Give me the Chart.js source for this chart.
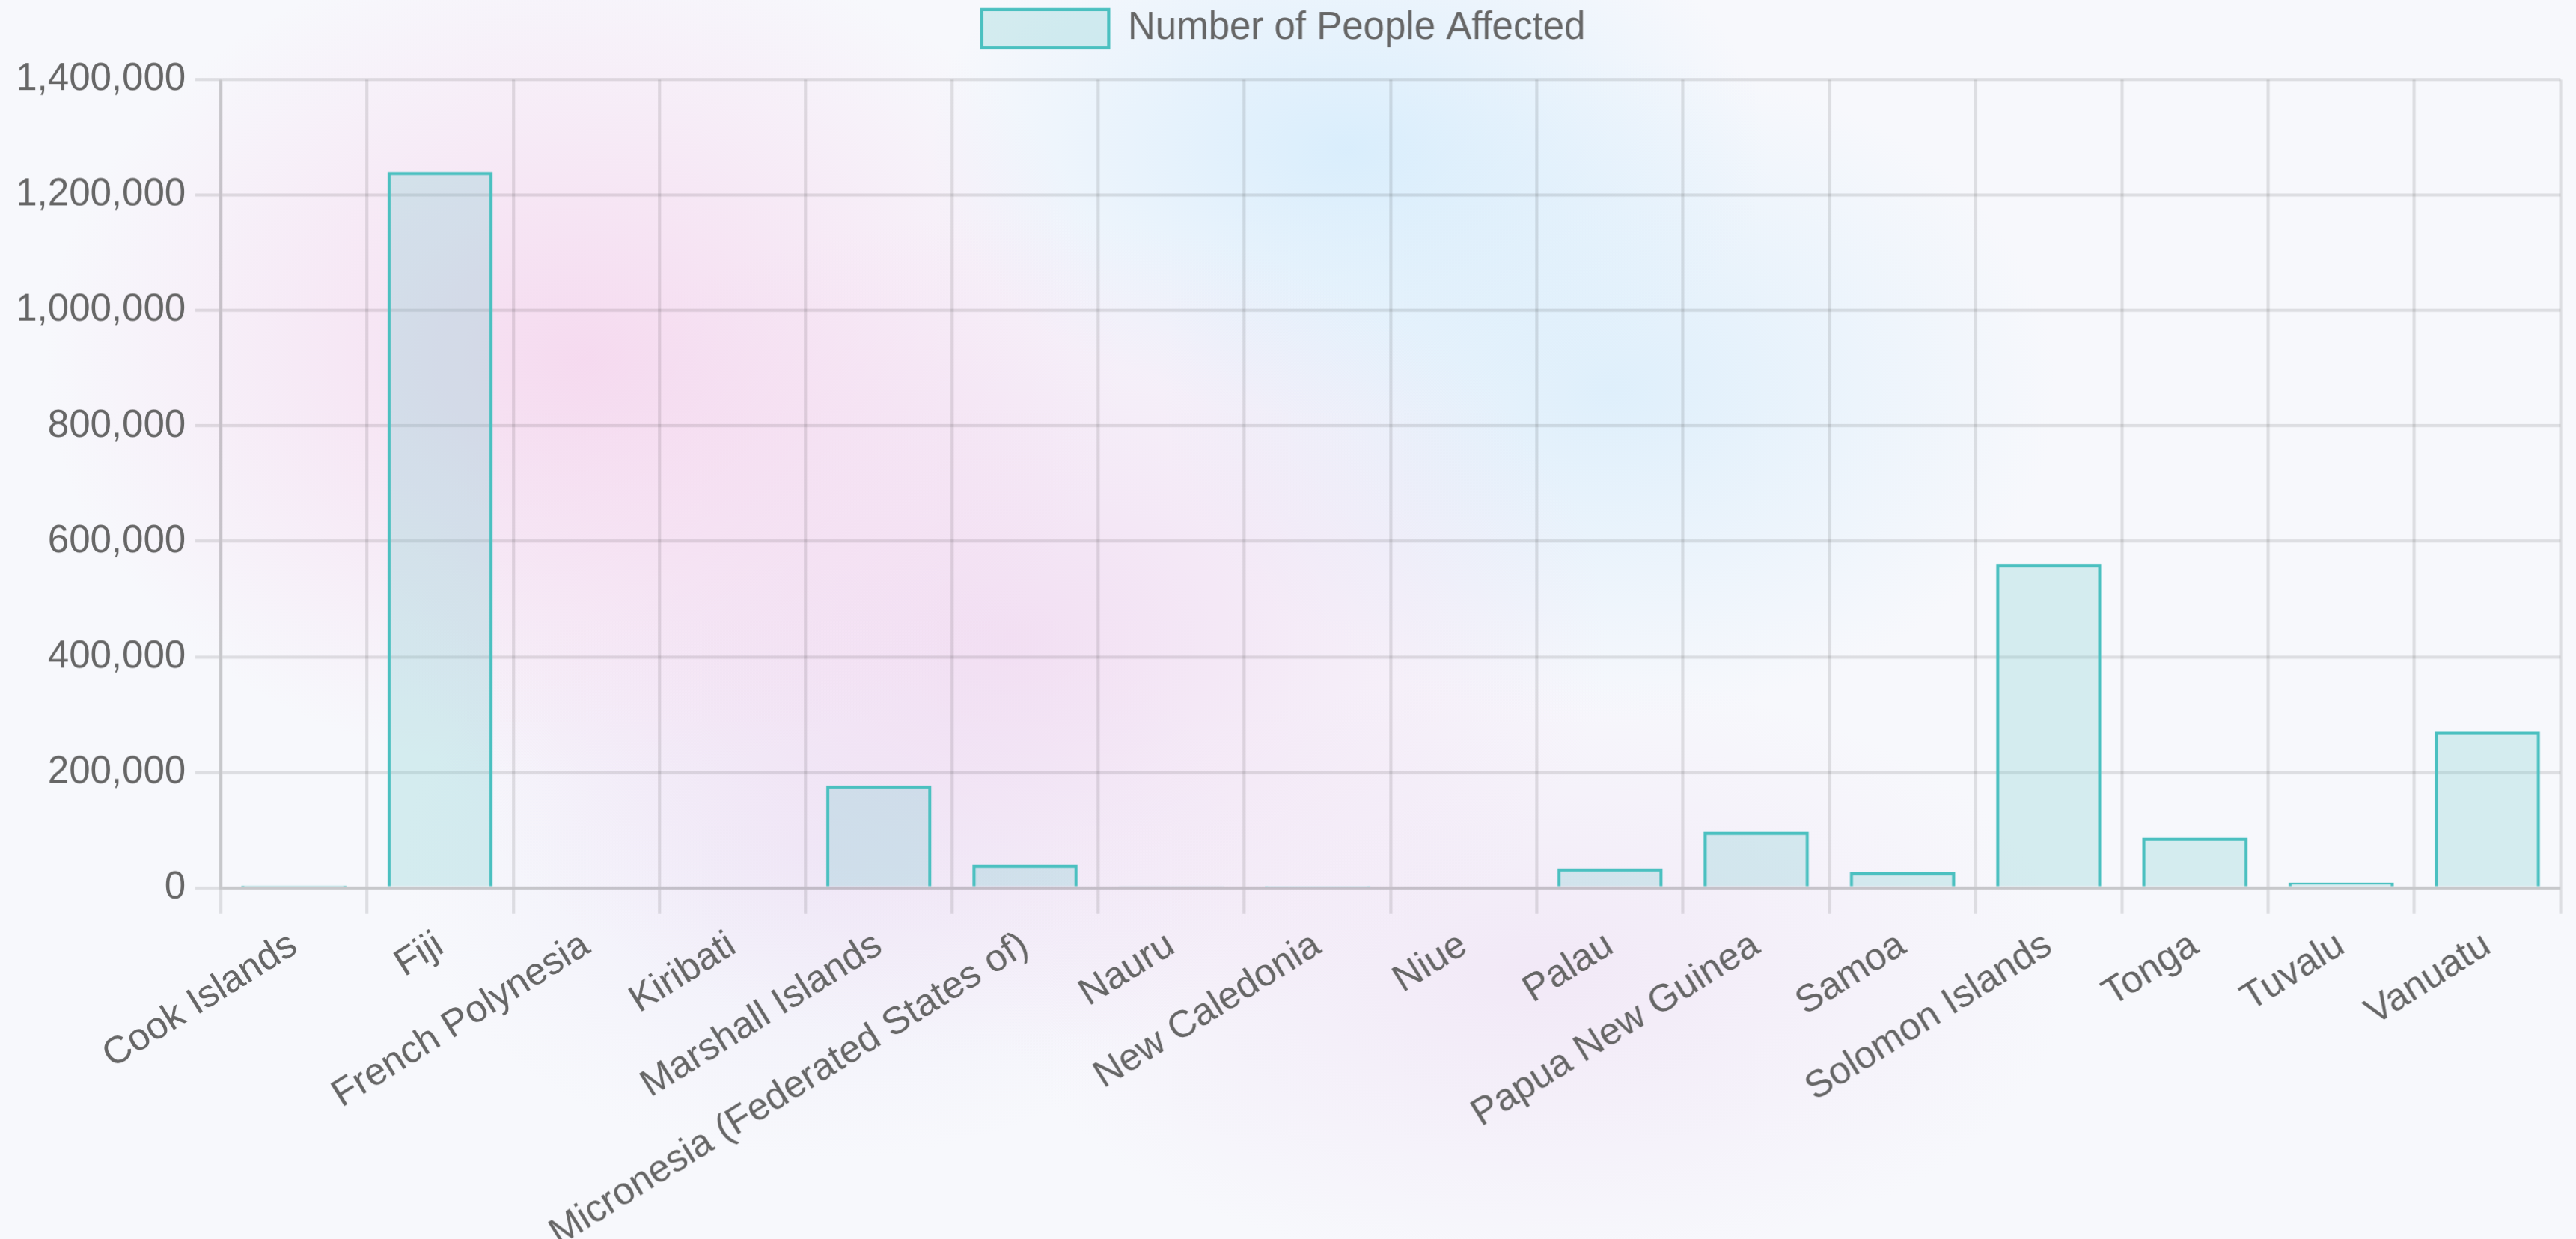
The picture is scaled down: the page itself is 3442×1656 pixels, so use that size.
<!DOCTYPE html>
<html>
<head>
<meta charset="utf-8">
<title>Number of People Affected</title>
<script src="https://cdn.jsdelivr.net/npm/chart.js@4"></script>
<style>
	html, body {
		margin: 0;
		padding: 0;
		width: 3442px;
		height: 1656px;
		overflow: hidden;
	}
	body {
		background-color: #f7f8fc;
		background-image:
			radial-gradient(ellipse 900px 700px at 780px 480px, rgba(245, 208, 235, 0.75), rgba(245, 208, 235, 0) 80%),
			radial-gradient(ellipse 1000px 700px at 1350px 850px, rgba(240, 210, 238, 0.65), rgba(240, 210, 238, 0) 80%),
			radial-gradient(ellipse 700px 450px at 1800px 200px, rgba(210, 235, 252, 0.8), rgba(210, 235, 252, 0) 80%),
			radial-gradient(ellipse 750px 550px at 2150px 520px, rgba(214, 236, 251, 0.75), rgba(214, 236, 251, 0) 80%),
			radial-gradient(ellipse 900px 500px at 2050px 1300px, rgba(238, 222, 243, 0.6), rgba(238, 222, 243, 0) 80%),
			radial-gradient(ellipse 700px 500px at 1100px 1150px, rgba(232, 226, 246, 0.5), rgba(232, 226, 246, 0) 80%);
	}
	#wrap {
		position: absolute;
		left: 0;
		top: 0;
		width: 809.88px;
		height: 389.65px;
		transform: scale(4.25);
		transform-origin: 0 0;
	}
</style>
</head>
<body>
<div id="wrap"><canvas id="chart"></canvas></div>
<script>
const countries = [
	'Cook Islands', 'Fiji', 'French Polynesia', 'Kiribati', 'Marshall Islands',
	'Micronesia (Federated States of)', 'Nauru', 'New Caledonia', 'Niue', 'Palau',
	'Papua New Guinea', 'Samoa', 'Solomon Islands', 'Tonga', 'Tuvalu', 'Vanuatu',
];
const affected = [
	4000, 1240000, 0, 0, 177000,
	40000, 3000, 800, 0, 34000,
	97000, 27000, 561000, 87000, 9000, 271000,
];
const seriesLabel = 'Number of People Affected';
const yMax = 1400000;
const yStep = 200000;

// whole chart drawn at 4.25x so the default Chart.js sizes match the picture
const SCALE = 4.25;

Chart.defaults.font.family = '"Liberation Sans", Arial, Helvetica, sans-serif';
Chart.defaults.font.size = 12;
Chart.defaults.color = '#666';

document.addEventListener('DOMContentLoaded', () => {
	new Chart(document.getElementById('chart'), {
		type: 'bar',
		data: {
			labels: countries,
			datasets: [
				{
					label: seriesLabel,
					data: affected,
					backgroundColor: 'rgba(75, 192, 192, 0.2)',
					borderColor: 'rgba(75, 192, 192, 1)',
					borderWidth: 1,
				},
			],
		},
		options: {
			devicePixelRatio: SCALE,
			responsive: true,
			maintainAspectRatio: false,
			animation: false,
			layout: {
				padding: { top: -7, right: 5, bottom: -8, left: 2 },
			},
			plugins: {
				legend: { display: true },
				tooltip: { enabled: false },
			},
			scales: {
				x: {
					ticks: { minRotation: 32, maxRotation: 32 },
				},
				y: {
					beginAtZero: true,
					max: yMax,
					ticks: { stepSize: yStep },
				},
			},
		},
	});
});
</script>
</body>
</html>
